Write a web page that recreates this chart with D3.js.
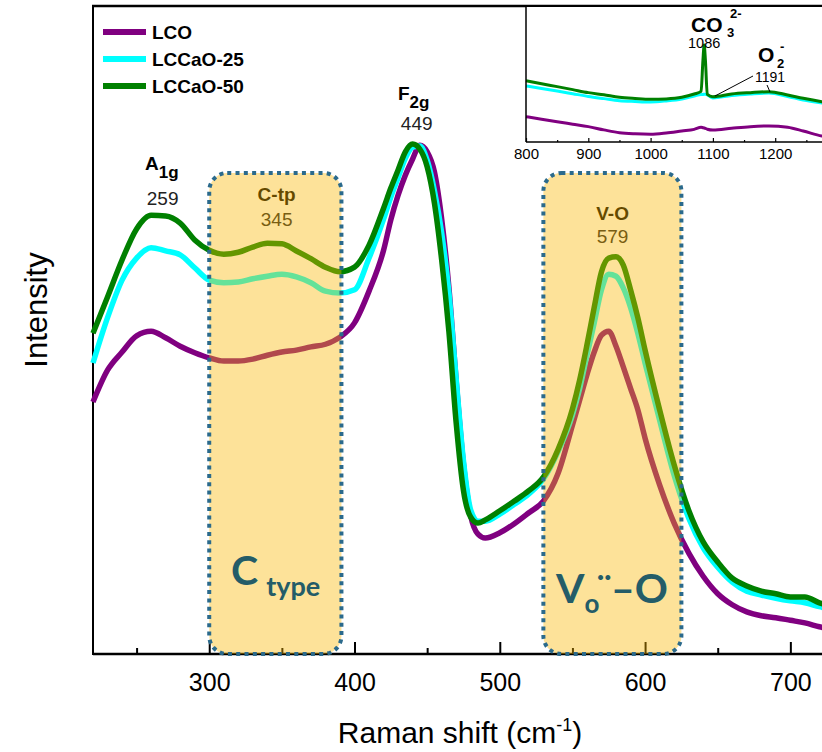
<!DOCTYPE html>
<html>
<head>
<meta charset="utf-8">
<script src="https://cdn.jsdelivr.net/npm/d3@7"></script>
<style>
  body { margin: 0; background: #fff; }
  svg { display: block; }
  text { font-family: "Liberation Sans", Arial, sans-serif; }
</style>
</head>
<body>
<svg id="chart" width="822" height="752"></svg>
<script>
// Raman spectra, 220–730 cm-1 (intensity in arbitrary units)
const shifts = [220,230,240,250,260,270,280,290,300,310,320,330,340,350,360,370,380,390,400,
  410,420,425,430,435,440,445,450,455,460,465,470,475,480,485,490,
  500,510,520,530,540,550,555,560,565,570,575,580,585,590,595,600,
  610,620,630,640,650,660,670,680,690,700,710,720,730];

const lco = [38.9,43.8,46.6,49.1,49.8,48.8,47.5,46.5,45.7,45.2,45.2,45.5,46.1,46.6,46.9,47.4,47.8,48.9,51.1,
  56.0,62.3,67.0,70.8,73.9,76.4,78.5,77.5,74.4,67.1,56.5,42.1,29.3,21.3,18.5,17.9,
  18.7,20.1,21.8,23.6,27.8,35.3,39.2,43.1,46.6,49.2,49.8,47.5,44.3,41.0,37.7,33.3,
  26.1,20.2,15.6,12.0,9.3,7.6,6.5,5.9,5.6,5.2,4.8,4.2,3.7];

const lccao25 = [44.9,51.9,57.7,61.1,62.7,62.2,61.6,59.6,57.7,57.3,57.4,57.9,58.3,58.6,58.2,57.3,56.0,55.7,56.2,
  61.1,67.1,70.5,73.5,76.5,78.2,78.4,76.2,71.5,65.0,55.7,42.4,29.8,22.2,20.5,20.5,
  21.6,23.1,24.7,27.0,31.2,36.9,41.0,46.1,51.1,56.2,58.6,58.3,56.5,53.5,49.5,44.9,
  36.1,27.6,21.0,16.4,13.4,11.1,9.7,9.1,8.6,8.2,7.9,7.3,6.8];

const lccao50 = [49.5,55.1,60.8,65.6,67.7,67.6,66.5,63.9,62.3,61.7,62.0,62.8,63.4,63.3,62.2,61.0,59.7,59.0,59.7,
  63.1,68.8,71.9,74.7,77.5,78.7,77.9,75.2,69.6,60.8,49.7,35.6,25.2,21.1,20.2,20.7,
  22.1,23.6,25.2,27.3,31.5,37.8,42.3,47.7,53.5,59.0,61.1,61.3,60.0,56.2,51.9,46.9,
  37.7,29.2,22.2,17.3,14.2,11.7,10.5,9.7,9.3,8.8,8.8,7.9,7.3];

// Inset: 800–1300 cm-1
const insetShifts = [800,825,850,875,900,925,950,975,1000,1025,1050,1070,1081,1084,1086,1088,1091,1100,1130,1160,1190,1220,1245,1275,1300];
const insetLco = [18.6,16.8,14.9,13.1,11.3,8.9,6.8,6.0,5.7,6.6,8.1,9.3,10.8,10.5,10.3,10.0,9.4,8.8,10.1,11.3,11.8,10.8,8.1,4.4,2.9];
const insetLccao25 = [41.2,39.4,37.5,35.5,33.5,31.9,30.4,29.8,29.4,30.2,31.6,33.8,35.0,35.0,35.2,35.0,34.6,32.4,34.2,35.3,36.0,33.5,30.9,28.7,27.2];
const insetLccao50 = [45.1,42.9,40.7,38.5,36.3,34.7,32.9,32.0,31.4,31.7,32.9,35.3,37.2,60.0,71.3,60.0,35.0,33.3,35.3,36.3,37.0,34.6,32.1,29.6,28.0];

const seriesNames = ["LCO", "LCCaO-25", "LCCaO-50"];
const seriesColors = ["#800080", "#00ffff", "#008000"];

const xMajorTicks = [300, 400, 500, 600, 700];
const xMinorTicks = [250, 350, 450, 550, 650, 750];
const insetMajorTicks = [800, 900, 1000, 1100, 1200];
const insetMinorTicks = [850, 950, 1050, 1150, 1250];

// shaded band regions (cm-1)
const bandStart = [300, 530];
const bandEnd = [391, 625];
const bandTitle = ["C-tp", "V-O"];
const bandPeak = [345, 579];

const svg = d3.select("#chart");

const x = d3.scaleLinear().domain([220, 750]).range([93, 863]);
const y = d3.scaleLinear().domain([0, 100]).range([654, 6]);
const xi = d3.scaleLinear().domain([800, 1300]).range([526, 837.5]);
const yi = d3.scaleLinear().domain([0, 100]).range([142, 6]);

const mainSeries = [lco, lccao25, lccao50];
const insetSeries = [insetLco, insetLccao25, insetLccao50];

// ---- bottom axis (ticks point into the plot)
const axisG = svg.append("g").attr("transform", "translate(0,654)");
axisG.call(d3.axisBottom(x).tickValues(xMinorTicks).tickSize(-6).tickSizeOuter(0).tickFormat(""));
axisG.call(g => g.select(".domain").remove());
const majorG = svg.append("g").attr("transform", "translate(0,654)");
majorG.call(d3.axisBottom(x).tickValues(xMajorTicks).tickSize(-12).tickSizeOuter(0).tickPadding(19).tickFormat(d3.format("d")));
majorG.select(".domain").remove();
svg.selectAll("g.tick line").attr("stroke", "#000").attr("stroke-width", 2);
majorG.selectAll("text").attr("font-size", 25).attr("fill", "#000")
  .style("font-family", "'Liberation Sans', Arial, sans-serif");

// axis frame lines
svg.append("line").attr("x1", 93).attr("x2", 822).attr("y1", 654).attr("y2", 654)
  .attr("stroke", "#000").attr("stroke-width", 2.5);
svg.append("line").attr("x1", 93).attr("x2", 93).attr("y1", 5).attr("y2", 655)
  .attr("stroke", "#000").attr("stroke-width", 2);
svg.append("line").attr("x1", 92).attr("x2", 822).attr("y1", 6).attr("y2", 6)
  .attr("stroke", "#000").attr("stroke-width", 2.5);

// ---- main spectra
const line = d3.line()
  .x((d, i) => x(shifts[i]))
  .y(d => y(d))
  .curve(d3.curveMonotoneX);

svg.append("g").selectAll("path")
  .data(mainSeries)
  .join("path")
  .attr("d", line)
  .attr("fill", "none")
  .attr("stroke", (d, i) => seriesColors[i])
  .attr("stroke-width", 5.5)
  .attr("stroke-linejoin", "round");

// band labels (sit under the translucent band fill)
const bandG = svg.append("g");
bandTitle.forEach((t, i) => {
  const cx = x(bandPeak[i]) - (i === 0 ? -2 : 2);
  bandG.append("text").attr("x", cx).attr("y", i === 0 ? 201 : 220)
    .attr("text-anchor", "middle").attr("font-size", 19).attr("font-weight", "bold")
    .attr("fill", "#000").text(t);
  bandG.append("text").attr("x", cx).attr("y", i === 0 ? 226 : 243)
    .attr("text-anchor", "middle").attr("font-size", 19)
    .attr("fill", "#222").text(bandPeak[i]);
});

// translucent bands with dotted rounded borders
const bandTop = 173;
bandStart.forEach((s, i) => {
  const x0 = x(s), x1 = x(bandEnd[i]);
  svg.append("rect").attr("x", x0).attr("y", bandTop)
    .attr("width", x1 - x0).attr("height", 654 - bandTop)
    .attr("rx", 18).attr("fill", "rgba(250,182,0,0.4)");
  svg.append("rect").attr("x", x0).attr("y", bandTop)
    .attr("width", x1 - x0).attr("height", 654 - bandTop)
    .attr("rx", 18).attr("fill", "none")
    .attr("stroke", "#2b6a8c").attr("stroke-width", 4)
    .attr("stroke-dasharray", "4 4.3");
});

// big band captions
const capFont = "Lato, 'Open Sans', sans-serif";
const capColor = "#245c68";
const ct = svg.append("text").attr("x", 231).attr("y", 585)
  .style("font-family", capFont).attr("font-weight", "bold")
  .attr("fill", capColor).attr("font-size", 41);
ct.append("tspan").text("C");
ct.append("tspan").attr("font-size", 27).attr("dx", 8).attr("dy", 11).text("type");

const vo = svg.append("text").attr("x", 556).attr("y", 603)
  .style("font-family", capFont).attr("font-weight", "bold")
  .attr("fill", capColor).attr("font-size", 41);
vo.append("tspan").text("V");
vo.append("tspan").attr("font-size", 26).attr("dy", 10).text("o");
svg.append("text").attr("x", 597).attr("y", 601)
  .style("font-family", capFont).attr("font-weight", "bold")
  .attr("fill", capColor).attr("font-size", 36).text("\u00A8");
svg.append("text").attr("x", 611).attr("y", 603)
  .style("font-family", capFont).attr("font-weight", "bold")
  .attr("fill", capColor).attr("font-size", 41).text("\u2013O");

// peak labels
const a1g = svg.append("text").attr("x", 145).attr("y", 170)
  .attr("font-size", 19).attr("font-weight", "bold").attr("fill", "#000");
a1g.append("tspan").text("A");
a1g.append("tspan").attr("font-size", 17).attr("dy", 8).text("1g");
svg.append("text").attr("x", x(259) + 13).attr("y", 205).attr("text-anchor", "middle")
  .attr("font-size", 19).attr("fill", "#222").text("259");

const f2g = svg.append("text").attr("x", 398).attr("y", 100)
  .attr("font-size", 19).attr("font-weight", "bold").attr("fill", "#000");
f2g.append("tspan").text("F");
f2g.append("tspan").attr("font-size", 17).attr("dy", 8).text("2g");
svg.append("text").attr("x", x(449) - 9).attr("y", 130).attr("text-anchor", "middle")
  .attr("font-size", 19).attr("fill", "#222").text("449");

// ---- legend
const legend = svg.append("g");
seriesNames.forEach((n, i) => {
  const ly = 32 + i * 27;
  legend.append("line").attr("x1", 103).attr("x2", 146).attr("y1", ly).attr("y2", ly)
    .attr("stroke", seriesColors[i]).attr("stroke-width", 6);
  legend.append("text").attr("x", 152).attr("y", ly + 7)
    .attr("font-size", 19).attr("font-weight", "bold").attr("fill", "#000").text(n);
});

// ---- axis titles
svg.append("text").attr("x", 460).attr("y", 743).attr("text-anchor", "middle")
  .attr("font-size", 30).attr("fill", "#000")
  .call(t => {
    t.append("tspan").text("Raman shift (cm");
    t.append("tspan").attr("font-size", 18).attr("dy", -12).text("-1");
    t.append("tspan").attr("dy", 12).text(")");
  });
svg.append("text").attr("transform", "translate(47,310) rotate(-90)")
  .attr("text-anchor", "middle").attr("font-size", 31).attr("fill", "#000").text("Intensity");

// ---- inset
const inset = svg.append("g");
inset.append("rect").attr("x", 526).attr("y", 7).attr("width", 296).attr("height", 135).attr("fill", "#fff");

const iline = d3.line()
  .x((d, i) => xi(insetShifts[i]))
  .y(d => yi(d))
  .curve(d3.curveMonotoneX);
inset.append("g").selectAll("path")
  .data(insetSeries)
  .join("path")
  .attr("d", iline)
  .attr("fill", "none")
  .attr("stroke", (d, i) => seriesColors[i])
  .attr("stroke-width", 3);

const iaxMinor = inset.append("g").attr("transform", "translate(0,142)")
  .call(d3.axisBottom(xi).tickValues(insetMinorTicks).tickSize(-2).tickFormat("").tickSizeOuter(0));
iaxMinor.select(".domain").remove();
const iax = inset.append("g").attr("transform", "translate(0,142)")
  .call(d3.axisBottom(xi).tickValues(insetMajorTicks).tickSize(-4).tickPadding(6)
    .tickSizeOuter(0).tickFormat(d3.format("d")));
iax.select(".domain").remove();
inset.selectAll("g.tick line").attr("stroke", "#000").attr("stroke-width", 1.2);
iax.selectAll("text").attr("font-size", 15).attr("fill", "#000")
  .style("font-family", "'Liberation Sans', Arial, sans-serif");
inset.append("line").attr("x1", 526).attr("x2", 822).attr("y1", 142).attr("y2", 142)
  .attr("stroke", "#000").attr("stroke-width", 1.5);
inset.append("line").attr("x1", 526).attr("x2", 526).attr("y1", 6).attr("y2", 142)
  .attr("stroke", "#000").attr("stroke-width", 1.5);

// inset annotations
inset.append("text").attr("x", 691).attr("y", 32).attr("font-size", 21).attr("font-weight", "bold").text("CO");
inset.append("text").attr("x", 727).attr("y", 37).attr("font-size", 13).attr("font-weight", "bold").text("3");
inset.append("text").attr("x", 730).attr("y", 18).attr("font-size", 13).attr("font-weight", "bold").text("2-");
inset.append("text").attr("x", xi(1086)).attr("y", 48).attr("text-anchor", "middle").attr("font-size", 14.5).text("1086");
inset.append("text").attr("x", 758).attr("y", 62).attr("font-size", 21).attr("font-weight", "bold").text("O");
inset.append("text").attr("x", 777).attr("y", 68).attr("font-size", 13).attr("font-weight", "bold").text("2");
inset.append("text").attr("x", 780).attr("y", 51).attr("font-size", 13).attr("font-weight", "bold").text("-");
inset.append("text").attr("x", 755).attr("y", 82).attr("font-size", 14).text("1191");
inset.append("line").attr("x1", 715).attr("y1", 96).attr("x2", 753).attr("y2", 76)
  .attr("stroke", "#000").attr("stroke-width", 1);
inset.append("line").attr("x1", 767).attr("y1", 85).attr("x2", 770).attr("y2", 92)
  .attr("stroke", "#000").attr("stroke-width", 1);
</script>
</body>
</html>
